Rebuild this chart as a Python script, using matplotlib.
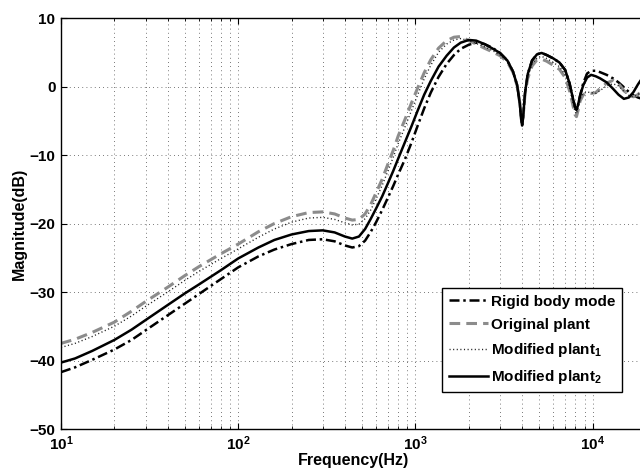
import numpy as np
import matplotlib.pyplot as plt
from matplotlib.ticker import FixedLocator, LogLocator, NullFormatter

plt.rcParams["font.family"] = ["Liberation Sans", "DejaVu Sans"]
plt.rcParams["font.weight"] = "bold"
plt.rcParams["mathtext.fontset"] = "custom"
plt.rcParams["mathtext.rm"] = "Liberation Sans:bold"
plt.rcParams["mathtext.bf"] = "Liberation Sans:bold"
plt.rcParams["mathtext.default"] = "bf"

# frequency points (Hz)
freq = [10, 12, 15, 20, 25, 30, 40, 50, 60, 80, 100, 130, 160, 200, 250, 300,
        350, 400, 440, 480, 520, 560, 600, 650, 700, 750, 800, 870, 950, 1030,
        1120, 1220, 1350, 1500, 1650, 1800, 2000, 2200, 2450, 2700, 3000, 3300,
        3550, 3750, 3880, 3960, 4000, 4050, 4150, 4300, 4550, 4850, 5150, 5500,
        6000, 6500, 7000, 7400, 7700, 7950, 8100, 8250, 8500, 8850, 9300, 9800,
        10400, 11000, 12000, 13000, 14000, 15000, 16000, 17000, 18000, 19000, 20000]

rigid = [-41.7, -41.0, -39.9, -38.4, -37.0, -35.6, -33.4, -31.7, -30.3, -28.1,
         -26.4, -24.8, -23.8, -23.0, -22.4, -22.3, -22.6, -23.2, -23.5, -23.3,
         -22.5, -21.2, -19.8, -18.0, -16.2, -14.5, -12.8, -10.7, -8.2, -5.7,
         -3.2, -0.9, 1.4, 3.3, 4.6, 5.5, 6.1, 6.4, 6.2, 5.7, 4.9, 3.8,
         2.2, 0.2, -2.5, -5.0, -5.7, -4.5, -1.0, 1.8, 3.8, 4.7, 4.9, 4.6,
         4.1, 3.5, 2.4, 0.5, -1.5, -3.0, -3.4, -2.8, -1.3, 0.5, 1.9, 2.3,
         2.3, 2.1, 1.7, 1.2, 0.6, -0.1, -0.8, -1.3, -1.6, -1.8, -1.9]

original = [-37.5, -36.9, -35.9, -34.4, -32.8, -31.4, -29.3, -27.6, -26.3, -24.4,
            -23.0, -21.2, -20.0, -19.0, -18.4, -18.3, -18.6, -19.2, -19.5, -19.4,
            -18.6, -17.2, -15.5, -13.5, -11.3, -9.3, -7.2, -4.9, -2.4, -0.2,
            2.0, 3.9, 5.6, 6.7, 7.2, 7.3, 6.7, 6.2, 5.6, 5.1, 4.5, 3.6,
            2.1, 0.1, -2.4, -4.8, -5.4, -4.4, -1.2, 1.2, 3.0, 3.9, 4.0, 3.7,
            3.1, 2.5, 1.3, -0.6, -2.5, -4.1, -4.4, -3.6, -2.1, -1.2, -0.9, -1.0,
            -0.9, -0.3, 0.5, 0.9, 0.4, -0.6, -1.3, -1.5, -1.2, -0.5, 0.3]

modified1 = [-38.1, -37.5, -36.5, -35.0, -33.5, -32.1, -30.0, -28.3, -27.0, -25.1,
             -23.7, -22.0, -20.8, -19.8, -19.2, -19.1, -19.4, -19.9, -20.2, -20.1,
             -19.3, -18.0, -16.4, -14.4, -12.3, -10.3, -8.3, -6.0, -3.5, -1.2,
             1.1, 3.1, 5.0, 6.2, 6.8, 7.0, 6.7, 6.3, 5.8, 5.3, 4.6, 3.7,
             2.1, 0.1, -2.5, -5.0, -5.6, -4.5, -1.1, 1.4, 3.3, 4.2, 4.4, 4.1,
             3.5, 2.9, 1.7, -0.2, -2.1, -3.7, -4.0, -3.3, -1.8, -1.0, -0.8, -0.9,
             -1.0, -0.6, 0.1, 0.4, 0.1, -0.7, -1.3, -1.5, -1.2, -0.6, 0.1]

modified2 = [-40.3, -39.7, -38.6, -37.0, -35.5, -34.1, -31.9, -30.2, -28.9, -26.8,
             -25.1, -23.5, -22.4, -21.6, -21.1, -21.0, -21.3, -21.9, -22.2, -21.9,
             -20.8, -19.3, -17.8, -16.0, -14.1, -12.3, -10.5, -8.2, -5.8, -3.5,
             -1.2, 0.8, 2.9, 4.5, 5.7, 6.4, 6.8, 6.7, 6.2, 5.6, 4.9, 3.8,
             2.2, 0.2, -2.5, -5.0, -5.7, -4.5, -1.0, 1.8, 3.8, 4.7, 4.9, 4.6,
             4.1, 3.5, 2.4, 0.5, -1.5, -3.0, -3.4, -2.8, -1.3, 0.2, 1.3, 1.7,
             1.5, 1.2, 0.6, -0.3, -1.2, -1.8, -1.6, -0.8, 0.3, 1.2, 2.0]

labels = ["Rigid body mode", "Original plant", r"Modified plant$_{1}$", r"Modified plant$_{2}$"]
yticks = [-50, -40, -30, -20, -10, 0, 10]

fig = plt.figure(figsize=(6.4, 4.73), dpi=100)
# the axes run a little past the right edge, as in the cropped original
ax = fig.add_axes([0.0953, 0.093, 0.9141, 0.8689])

ax.semilogx(freq, rigid, color="k", linestyle=(0, (4, 1.5, 1, 1.5)), linewidth=1.8, label=labels[0])
ax.semilogx(freq, original, color="#8c8c8c", linestyle=(0, (3.5, 2)), linewidth=2.2, label=labels[1])
ax.semilogx(freq, modified1, color="#222222", linestyle=(0, (0.8, 1.8)), linewidth=1.0, label=labels[2])
ax.semilogx(freq, modified2, color="k", linestyle="-", linewidth=1.8, label=labels[3])

ax.set_xlim(10, 2e4)
ax.set_ylim(-50, 10)
ax.yaxis.set_major_locator(FixedLocator(yticks))
ax.xaxis.set_major_locator(LogLocator(base=10, numticks=10))
ax.xaxis.set_minor_locator(LogLocator(base=10, subs=np.arange(2, 10), numticks=20))
ax.xaxis.set_minor_formatter(NullFormatter())

ax.grid(True, which="major", linestyle=(0, (1, 4)), color="k", linewidth=0.6, alpha=0.7)
ax.grid(True, which="minor", axis="x", linestyle=(0, (1, 4)), color="k", linewidth=0.6, alpha=0.7)
ax.tick_params(which="both", direction="in", top=True, right=True, labelsize=11)
ax.tick_params(which="major", length=4, pad=4)
ax.tick_params(which="minor", length=2)
for lab in ax.get_xticklabels() + ax.get_yticklabels():
    lab.set_fontweight("bold")
for s in ax.spines.values():
    s.set_linewidth(1.0)

ax.set_xlabel("Frequency(Hz)", fontsize=11.5, fontweight="bold", labelpad=0)
ax.set_ylabel("Magnitude(dB)", fontsize=11.5, fontweight="bold", labelpad=2)

leg = ax.legend(loc="upper left", bbox_to_anchor=(0.652, 0.342), borderaxespad=0,
                fontsize=11, handlelength=2.6, handletextpad=0.2, labelspacing=0.6,
                fancybox=False, framealpha=1, edgecolor="k", borderpad=0.4)
leg.get_frame().set_linewidth(1.0)
for t in leg.get_texts():
    t.set_fontweight("bold")

fig.savefig("out.png", dpi=100)
